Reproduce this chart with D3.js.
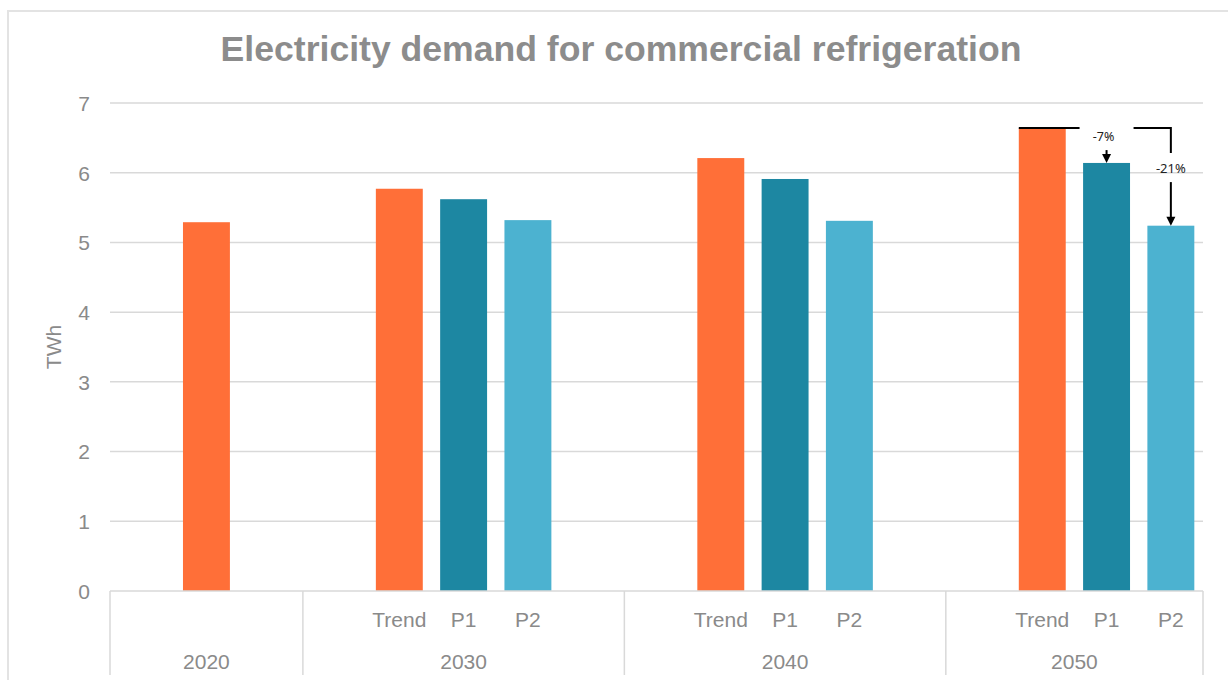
<!DOCTYPE html>
<html>
<head>
<meta charset="utf-8">
<script src="https://cdn.jsdelivr.net/npm/d3@7"></script>
<style>
  html, body { margin: 0; padding: 0; background: #fff; }
  svg { display: block; }
</style>
</head>
<body>
<svg id="chart" width="1228" height="680"></svg>
<script>
// Electricity demand (TWh) per year and scenario
const years = ["2020", "2030", "2040", "2050"];
const scenarios = ["Trend", "P1", "P2"];
const trendValues = [5.29, 5.77, 6.21, 6.64];
const p1Values = [null, 5.62, 5.91, 6.14];
const p2Values = [null, 5.32, 5.31, 5.24];
const yTicks = [0, 1, 2, 3, 4, 5, 6, 7];
const title = "Electricity demand for commercial refrigeration";
const yLabel = "TWh";
const reductionLabels = ["-7%", "-21%"];

// Slot layout per year: empty spacer slots ("") around the scenario bars
const yearSlots = [
  ["", "Trend", ""],
  ["", "Trend", "P1", "P2", ""],
  ["", "Trend", "P1", "P2", ""],
  ["", "Trend", "P1", "P2"]
];

const colors = { Trend: "#FF6F38", P1: "#1D87A2", P2: "#4CB2D0" };
const textColor = "#8a8a8a";
const gridColor = "#d9d9d9";

const valueOf = (scen, yi) =>
  scen === "Trend" ? trendValues[yi] : scen === "P1" ? p1Values[yi] : p2Values[yi];

// Flatten into slot records
const slots = [];
yearSlots.forEach((arr, yi) => {
  arr.forEach((s, si) => {
    slots.push({ key: years[yi] + "-" + si, year: years[yi], yi, scen: s,
                 value: s ? valueOf(s, yi) : null });
  });
});

const svg = d3.select("#chart");
const plotLeft = 110, plotRight = 1203, plotTop = 103, plotBottom = 591;

const x = d3.scaleBand()
  .domain(slots.map(d => d.key))
  .range([plotLeft, plotRight])
  .paddingInner(0.27)
  .paddingOuter(0.135);

const y = d3.scaleLinear().domain([0, 7]).range([plotBottom, plotTop]);

// Outer frame
svg.append("rect")
  .attr("x", 8).attr("y", 11)
  .attr("width", 1240).attr("height", 700)
  .attr("fill", "none").attr("stroke", "#e3e3e3").attr("stroke-width", 2);

// Title (fitted to its width)
const t = svg.append("text")
  .attr("x", 621).attr("y", 61)
  .attr("text-anchor", "middle")
  .attr("font-family", "Liberation Sans, Arial, sans-serif")
  .attr("font-weight", "bold")
  .attr("font-size", 32)
  .attr("fill", "#8c8c8c")
  .text(title);
const tw = t.node().getComputedTextLength();
t.attr("font-size", 32 * 801 / tw);

// Gridlines
svg.append("g").selectAll("line")
  .data(yTicks.filter(v => v > 0))
  .join("line")
  .attr("x1", plotLeft).attr("x2", plotRight)
  .attr("y1", d => y(d)).attr("y2", d => y(d))
  .attr("stroke", gridColor).attr("stroke-width", 1.5);

// Y axis tick labels
const yAxis = d3.axisLeft(y).tickValues(yTicks).tickFormat(d3.format("d"))
  .tickSize(0).tickPadding(20);
const yg = svg.append("g").attr("transform", `translate(${plotLeft},0)`).call(yAxis);
yg.select(".domain").remove();
yg.selectAll("text")
  .attr("font-family", "Liberation Sans, Arial, sans-serif")
  .attr("font-size", 21)
  .attr("fill", textColor)
  .attr("dy", "0.35em");

// Y axis title
svg.append("text")
  .attr("transform", `translate(61,${(plotTop + plotBottom) / 2}) rotate(-90)`)
  .attr("text-anchor", "middle")
  .attr("font-family", "Liberation Sans, Arial, sans-serif")
  .attr("font-size", 21)
  .attr("fill", textColor)
  .text(yLabel);

// Bars
svg.append("g").selectAll("rect")
  .data(slots.filter(d => d.value != null))
  .join("rect")
  .attr("x", d => x(d.key))
  .attr("width", x.bandwidth())
  .attr("y", d => y(d.value))
  .attr("height", d => y(0) - y(d.value))
  .attr("fill", d => colors[d.scen]);

// Category axis: baseline, group dividers, labels
svg.append("line")
  .attr("x1", plotLeft).attr("x2", plotRight)
  .attr("y1", plotBottom).attr("y2", plotBottom)
  .attr("stroke", gridColor).attr("stroke-width", 1.5);

const step = x.step();
const groupEdges = [plotLeft];
let acc = 0;
yearSlots.forEach(arr => { acc += arr.length; groupEdges.push(plotLeft + acc * step); });

svg.append("g").selectAll("line")
  .data(groupEdges)
  .join("line")
  .attr("x1", d => d).attr("x2", d => d)
  .attr("y1", plotBottom).attr("y2", 675)
  .attr("stroke", gridColor).attr("stroke-width", 1.5);

// Scenario labels (only for years with scenario bars)
svg.append("g").selectAll("text")
  .data(slots.filter(d => d.scen && d.yi > 0))
  .join("text")
  .attr("x", d => x(d.key) + x.bandwidth() / 2)
  .attr("y", 627)
  .attr("text-anchor", "middle")
  .attr("font-family", "Liberation Sans, Arial, sans-serif")
  .attr("font-size", 21)
  .attr("fill", textColor)
  .text(d => d.scen);

// Year labels
svg.append("g").selectAll("text")
  .data(years)
  .join("text")
  .attr("x", (d, i) => (groupEdges[i] + groupEdges[i + 1]) / 2)
  .attr("y", 669)
  .attr("text-anchor", "middle")
  .attr("font-family", "Liberation Sans, Arial, sans-serif")
  .attr("font-size", 21)
  .attr("fill", textColor)
  .text(d => d);

// Reduction annotation on the last year
const last = years.length - 1;
const keyOf = scen => years[last] + "-" + yearSlots[last].indexOf(scen);
const cx = scen => x(keyOf(scen)) + x.bandwidth() / 2;
const yT = y(trendValues[last]);
const yP1 = y(p1Values[last]);
const yP2 = y(p2Values[last]);
const xT0 = x(keyOf("Trend"));
const xP1 = cx("P1");
const xP2 = cx("P2");

const ann = svg.append("g").attr("stroke", "#000").attr("stroke-width", 2).attr("fill", "none");
ann.append("line").attr("x1", xT0).attr("x2", xP1 - 27).attr("y1", yT).attr("y2", yT);
ann.append("path").attr("d", `M${xP1 + 27},${yT} H${xP2} V${yT + 25}`);
ann.append("line").attr("x1", xP1).attr("x2", xP1).attr("y1", yT + 22).attr("y2", yP1 - 6);
ann.append("line").attr("x1", xP2).attr("x2", xP2).attr("y1", yT + 54).attr("y2", yP2 - 6);

const arrowHead = (ax, ay) =>
  svg.append("path")
    .attr("d", `M${ax - 4.5},${ay - 9} L${ax + 4.5},${ay - 9} L${ax},${ay} Z`)
    .attr("fill", "#000");
arrowHead(xP1, yP1);
arrowHead(xP2, yP2);

svg.append("text")
  .attr("x", xP1 - 3).attr("y", yT + 13)
  .attr("text-anchor", "middle")
  .attr("font-family", "Noto Sans, Open Sans, sans-serif")
  .attr("font-size", 12.5)
  .attr("fill", "#222")
  .text(reductionLabels[0]);
svg.append("text")
  .attr("x", xP2).attr("y", yT + 45)
  .attr("text-anchor", "middle")
  .attr("font-family", "Noto Sans, Open Sans, sans-serif")
  .attr("font-size", 13)
  .attr("fill", "#222")
  .text(reductionLabels[1]);
</script>
</body>
</html>
